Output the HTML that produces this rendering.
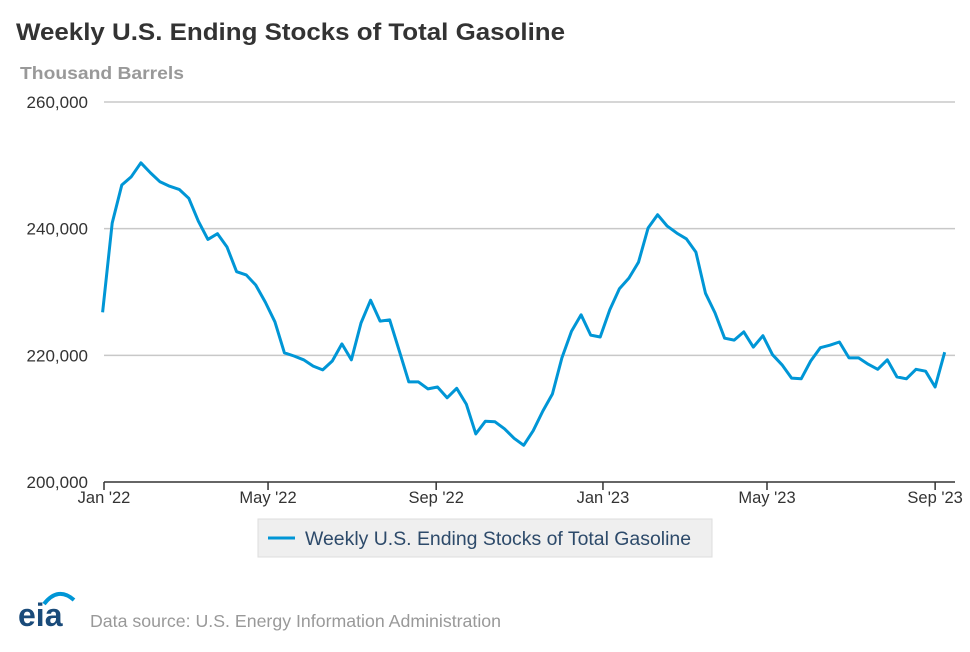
<!DOCTYPE html>
<html><head><meta charset="utf-8"><style>
body{margin:0;background:#fff;width:970px;height:647px;overflow:hidden;font-family:"Liberation Sans",Arial,sans-serif}
</style></head><body>
<svg width="970" height="647" xmlns="http://www.w3.org/2000/svg">
<text x="16" y="40" font-size="24" font-weight="bold" fill="#333" textLength="549" lengthAdjust="spacingAndGlyphs">Weekly U.S. Ending Stocks of Total Gasoline</text>
<text x="20" y="79" font-size="17.5" font-weight="bold" fill="#999" textLength="164" lengthAdjust="spacingAndGlyphs">Thousand Barrels</text>
<g id="grid"></g><g id="xaxis"></g>
<polyline id="line" fill="none" stroke="#0096d6" stroke-width="3" stroke-linejoin="round"/>
<g>
<rect x="258" y="519" width="454" height="38" fill="#efefef" stroke="#ddd"/>
<line x1="268" y1="538" x2="295" y2="538" stroke="#0096d6" stroke-width="3"/>
<text x="305" y="545" font-size="19" fill="#2d4a6a" textLength="386" lengthAdjust="spacingAndGlyphs">Weekly U.S. Ending Stocks of Total Gasoline</text>
</g>
<g>
<text x="18" y="626" font-size="32" font-weight="bold" fill="#1a4b7a">eia</text>
<path d="M44 604 Q58 586 74 600" fill="none" stroke="#0096d6" stroke-width="4"/>
</g>
<text x="90" y="627" font-size="17.5" fill="#999" textLength="411" lengthAdjust="spacingAndGlyphs">Data source: U.S. Energy Information Administration</text>
</svg>
<script>
const values=[226.8,240.9,246.9,248.2,250.4,248.8,247.4,246.7,246.2,244.8,241.2,238.3,239.2,237.1,233.2,232.7,231.1,228.4,225.3,220.4,219.9,219.3,218.3,217.7,219.1,221.8,219.3,225.1,228.7,225.4,225.6,220.7,215.8,215.8,214.7,215.0,213.3,214.8,212.3,207.6,209.6,209.5,208.4,206.9,205.8,208.1,211.2,213.9,219.6,223.8,226.4,223.2,222.9,227.2,230.5,232.2,234.7,240.1,242.2,240.4,239.3,238.4,236.3,229.8,226.7,222.7,222.4,223.7,221.3,223.1,220.1,218.5,216.4,216.3,219.1,221.2,221.6,222.1,219.6,219.6,218.6,217.8,219.3,216.6,216.3,217.8,217.5,215.0,220.5];
const yTicks=[200,220,240,260];
const yTickLabels=["200,000","220,000","240,000","260,000"];
const xTickDays=[0,120,243,365,485,608];
const xTickLabels=["Jan '22","May '22","Sep '22","Jan '23","May '23","Sep '23"];
const startDay=-1;
const NS="http://www.w3.org/2000/svg";
const y=v=>482-(v-200)*380/60;
const x=d=>104+d*1.367;
const grid=document.getElementById('grid');
yTicks.forEach((t,i)=>{
 if(t>200){const l=document.createElementNS(NS,'line');
 l.setAttribute('x1',104);l.setAttribute('x2',955);l.setAttribute('y1',y(t));l.setAttribute('y2',y(t));
 l.setAttribute('stroke','#c8c8c8');l.setAttribute('stroke-width','1.5');
 
 
 grid.appendChild(l);}
 const tx=document.createElementNS(NS,'text');
 tx.setAttribute('x',88);tx.setAttribute('y',y(t)+6);tx.setAttribute('text-anchor','end');
 tx.setAttribute('font-size','17');tx.setAttribute('fill','#333');tx.textContent=yTickLabels[i];
 
 
 grid.appendChild(tx);
});
const xa=document.getElementById('xaxis');
const ax=document.createElementNS(NS,'line');
ax.setAttribute('x1',104);ax.setAttribute('x2',955);ax.setAttribute('y1',482);ax.setAttribute('y2',482);
ax.setAttribute('stroke','#333');ax.setAttribute('stroke-width','1.5');


xa.appendChild(ax);
xTickDays.forEach((d,i)=>{
 const tk=document.createElementNS(NS,'line');
 tk.setAttribute('x1',x(d));tk.setAttribute('x2',x(d));tk.setAttribute('y1',482);tk.setAttribute('y2',490);
 tk.setAttribute('stroke','#333');tk.setAttribute('stroke-width','1.5');
 
 
 xa.appendChild(tk);
 const tx=document.createElementNS(NS,'text');
 tx.setAttribute('x',x(d));tx.setAttribute('y',503);tx.setAttribute('text-anchor','middle');
 tx.setAttribute('font-size','16.5');tx.setAttribute('fill','#333');tx.textContent=xTickLabels[i];
 
 
 xa.appendChild(tx);
});
document.getElementById('line').setAttribute('points',values.map((v,i)=>Math.max(100,x(startDay+i*7)).toFixed(1)+','+y(v).toFixed(1)).join(' '));
</script>
</body></html>
